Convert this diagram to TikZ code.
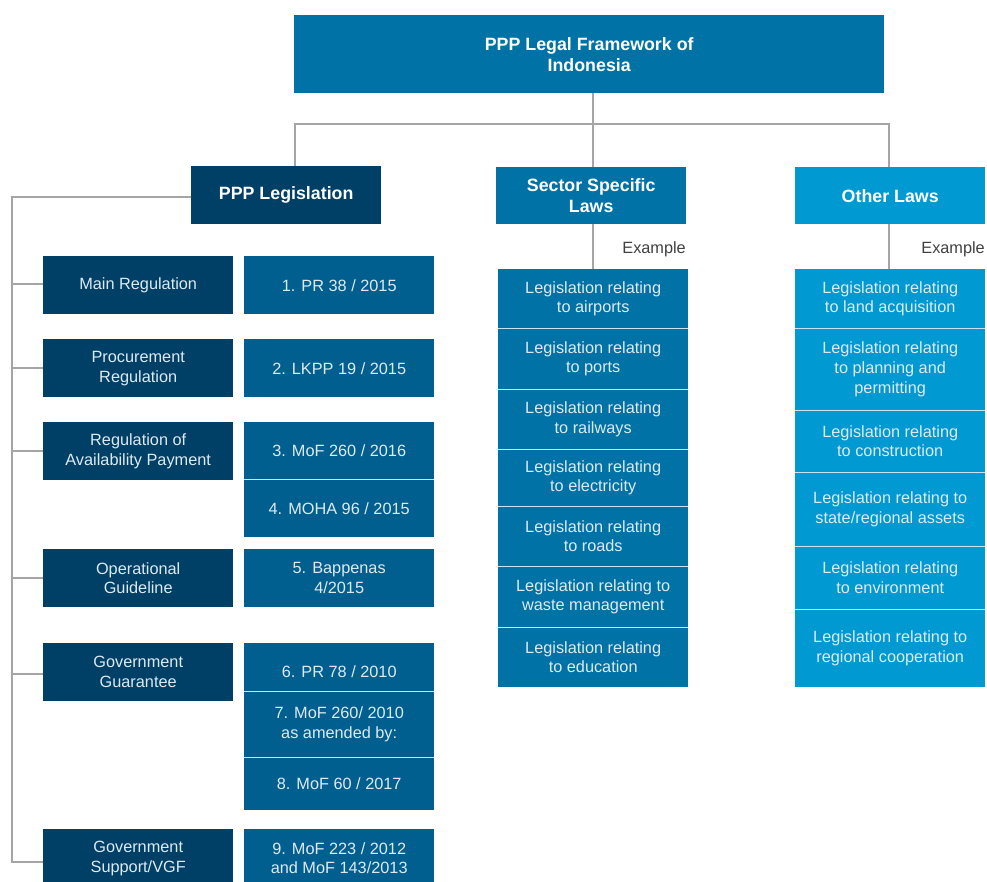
\documentclass[tikz,border=0pt]{standalone}
\usepackage{fontspec}
\setmainfont{Liberation Sans}
\definecolor{navy}{RGB}{0,63,102}
\definecolor{midb}{RGB}{0,95,142}
\definecolor{secb}{RGB}{0,114,165}
\definecolor{othb}{RGB}{0,153,210}
\definecolor{txtl}{RGB}{222,234,242}
\definecolor{connc}{RGB}{165,165,165}
\definecolor{sepc}{RGB}{200,228,242}
\tikzset{
  box/.style={anchor=north west, inner sep=0pt, align=center, text=txtl,
    font=\fontsize{16.3}{19.8}\selectfont, minimum width=190pt},
  head/.style={box, text=white, font=\fontsize{17.8}{21}\selectfont\bfseries},
  conn/.style={draw=connc, line width=1.4pt},
  sepl/.style={draw=sepc, line width=1.6pt},
  extxt/.style={anchor=base east, inner sep=0pt, text=black!75, font=\fontsize{16.3}{19}\selectfont}
}
\begin{document}
\begin{tikzpicture}[x=1pt,y=-1pt]
\useasboundingbox (0,0) rectangle (987,881);
% headers
\node[head, fill=secb, minimum width=590pt, minimum height=78pt] (title) at (294,15) {PPP Legal Framework of\\Indonesia};
\node[head, fill=navy, minimum height=58pt] (leg) at (191,166) {PPP Legislation};
\node[head, fill=secb, minimum height=57pt] (sec) at (496,167) {Sector Specific\\Laws};
\node[head, fill=othb, minimum height=57pt] (oth) at (795,167) {Other Laws};
% left column
\node[box, fill=navy, minimum height=58pt] (l1) at (43,256) {Main Regulation};
\node[box, fill=navy, minimum height=58pt] (l2) at (43,339) {Procurement\\Regulation};
\node[box, fill=navy, minimum height=58pt] (l3) at (43,422) {Regulation of\\Availability Payment};
\node[box, fill=navy, minimum height=58pt] (l4) at (43,549) {Operational\\Guideline};
\node[box, fill=navy, minimum height=58pt] (l5) at (43,643) {Government\\Guarantee};
\node[box, fill=navy, minimum height=58pt] (l6) at (43,829) {Government\\Support/VGF};
% right column
\node[box, fill=midb, minimum height=58pt] (r1) at (244,256) {1. PR 38 / 2015};
\node[box, fill=midb, minimum height=58pt] (r2) at (244,339) {2. LKPP 19 / 2015};
\node[box, fill=midb, minimum height=57pt] (r3) at (244,422) {3. MoF 260 / 2016};
\node[box, fill=midb, minimum height=58pt] (r4) at (244,479) {4. MOHA 96 / 2015};
\node[box, fill=midb, minimum height=58pt] (r5) at (244,549) {5. Bappenas\\4/2015};
\node[box, fill=midb, minimum height=48pt, text depth=0pt] (r6) at (244,643) {\raisebox{-9pt}{6. PR 78 / 2010}};
\node[box, fill=midb, minimum height=66pt] (r7) at (244,691) {7. MoF 260/ 2010\\as amended by:};
\node[box, fill=midb, minimum height=53pt] (r8) at (244,757) {8. MoF 60 / 2017};
\node[box, fill=midb, minimum height=58pt] (r9) at (244,829) {9. MoF 223 / 2012\\and MoF 143/2013};
\draw[sepl] (r3.south west) -- (r3.south east);
\draw[sepl] (r6.south west) -- (r6.south east);
\draw[sepl] (r7.south west) -- (r7.south east);
% sector list
\node[box, fill=secb, minimum height=59pt] (s1) at (498,269) {Legislation relating\\to airports};
\node[box, fill=secb, minimum height=61pt] (s2) at (498,328) {Legislation relating\\to ports};
\node[box, fill=secb, minimum height=60pt] (s3) at (498,389) {Legislation relating\\to railways};
\node[box, fill=secb, minimum height=57pt] (s4) at (498,449) {Legislation relating\\to electricity};
\node[box, fill=secb, minimum height=60pt] (s5) at (498,506) {Legislation relating\\to roads};
\node[box, fill=secb, minimum height=61pt] (s6) at (498,566) {Legislation relating to\\waste management};
\node[box, fill=secb, minimum height=60pt] (s7) at (498,627) {Legislation relating\\to education};
\foreach \n in {s1,s2,s3,s4,s5,s6}{\draw[sepl] (\n.south west) -- (\n.south east);}
% other list
\node[box, fill=othb, minimum height=59pt] (o1) at (795,269) {Legislation relating\\to land acquisition};
\node[box, fill=othb, minimum height=82pt] (o2) at (795,328) {Legislation relating\\to planning and\\permitting};
\node[box, fill=othb, minimum height=62pt] (o3) at (795,410) {Legislation relating\\to construction};
\node[box, fill=othb, minimum height=74pt] (o4) at (795,472) {Legislation relating to\\state/regional assets};
\node[box, fill=othb, minimum height=63pt] (o5) at (795,546) {Legislation relating\\to environment};
\node[box, fill=othb, minimum height=78pt] (o6) at (795,609) {Legislation relating to\\regional cooperation};
\foreach \n in {o1,o2,o3,o4,o5}{\draw[sepl] (\n.south west) -- (\n.south east);}
% Example labels
\node[extxt] (ex1) at (686,253) {Example};
\node[extxt] (ex2) at (985,253) {Example};
% connectors
\coordinate (hL) at (295,124);
\coordinate (hM) at (593,124);
\coordinate (hR) at (889,124);
\draw[conn] (title.south -| hM) -- (hM |- sec.north);
\draw[conn] (hL |- leg.north) -- (hL) -- (hR) -- (hR |- oth.north);
\draw[conn] (hM |- sec.south) -- (hM |- s1.north);
\draw[conn] (hR |- oth.south) -- (hR |- o1.north);
\coordinate (sp) at (12,197);
\draw[conn] (leg.west |- sp) -- (sp) -- (sp |- 0,862) -- (l6.west |- 0,862);
\foreach \n/\yy in {l1/284,l2/368,l3/451,l4/578,l5/674}{\draw[conn] (sp |- 0,\yy) -- (\n.west |- 0,\yy);}
\end{tikzpicture}
\end{document}
